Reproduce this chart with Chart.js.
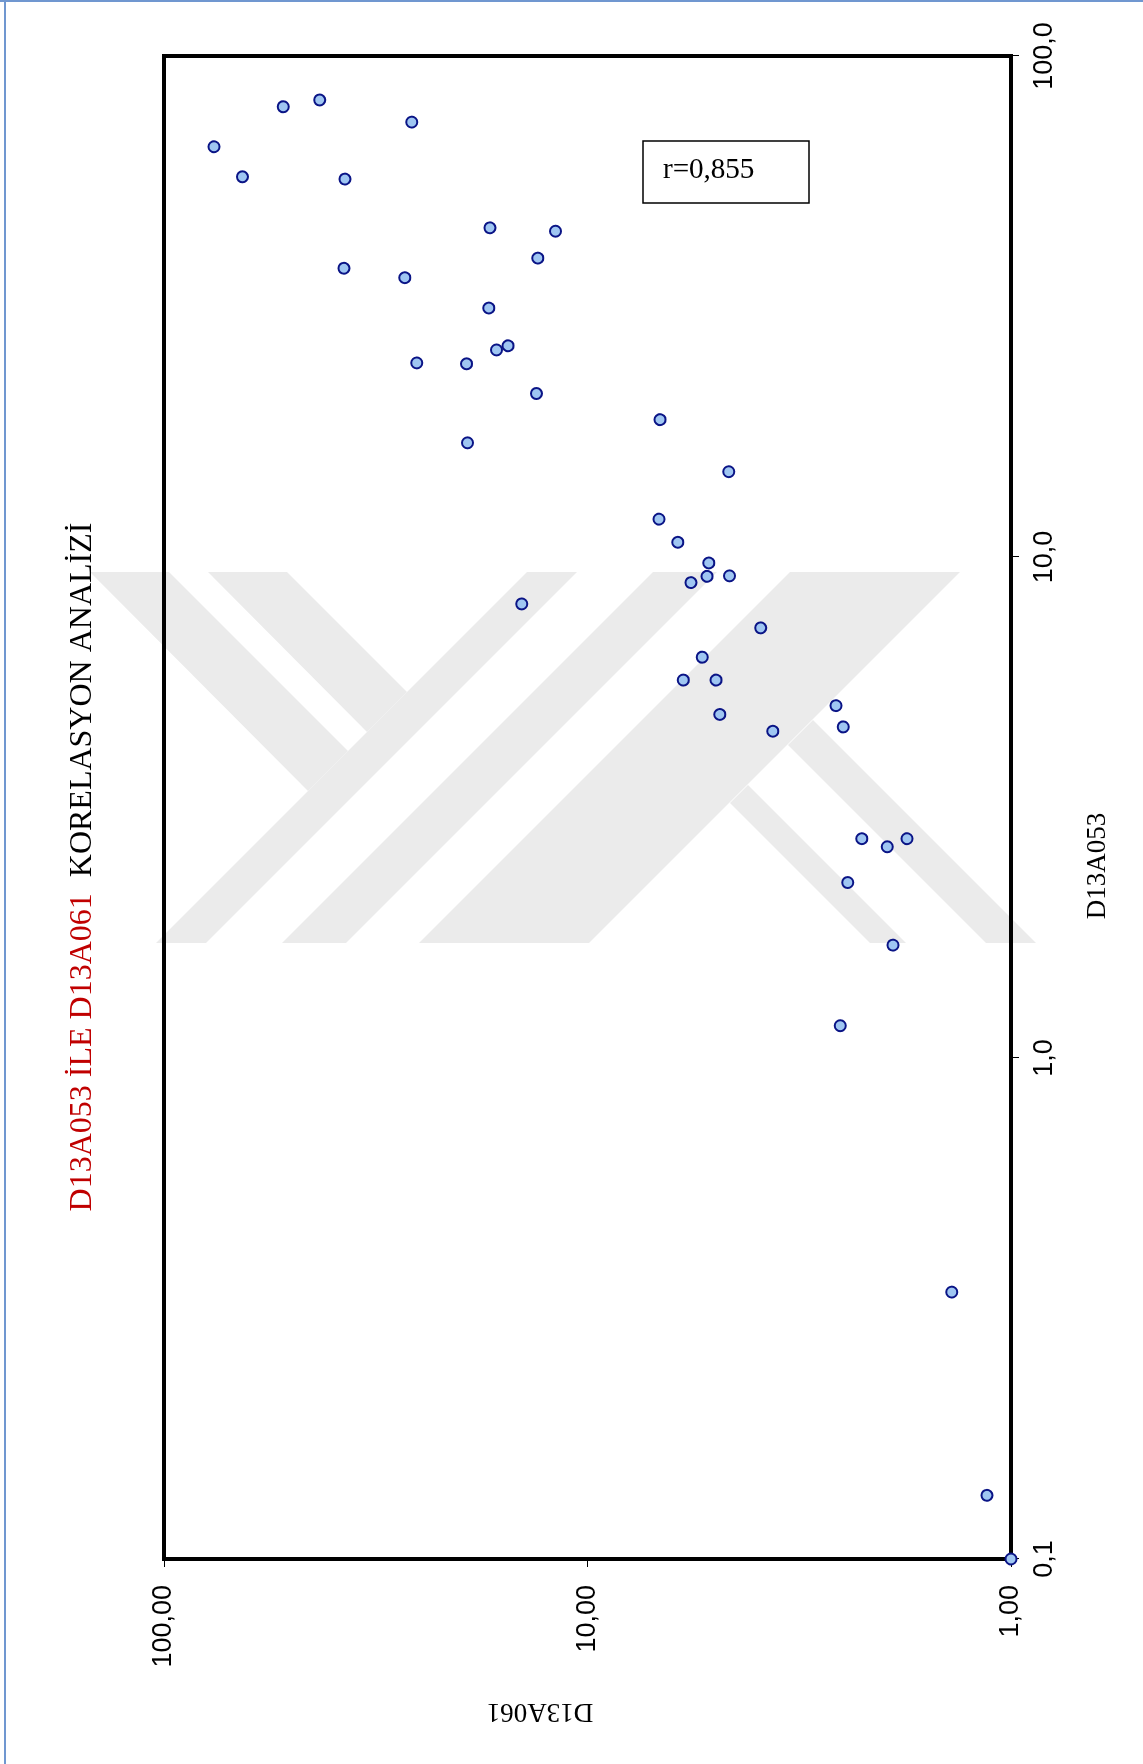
<!DOCTYPE html>
<html>
<head>
<meta charset="utf-8">
<script src="https://cdn.jsdelivr.net/npm/chart.js@4/dist/chart.umd.min.js"></script>
<style>
  html, body { margin: 0; padding: 0; background: #fff; }
  body { width: 1143px; height: 1764px; overflow: hidden; position: relative; }
  /* the chart is laid out landscape and turned a quarter turn to stand on the page */
  #turn { position: absolute; left: 0; top: 0; width: 1764px; height: 1143px;
          transform-origin: 0 0; transform: translate(0px, 1764px) rotate(-90deg); }
  canvas { display: block; }
</style>
</head>
<body>
<div id="turn"><canvas id="c" width="1764" height="1143"></canvas></div>
<script>
// one pair per sample: D13A053 on the log x scale, D13A061 on the log y scale
const d13a053 = [65.9, 57.4, 79.2, 81.7, 73.8, 56.8, 37.7, 36.1, 45.4, 44.7, 39.5,
                 31.4, 25.9, 26.4, 24.4, 24.3, 21.2, 16.9, 18.8, 14.8, 11.9, 10.7,
                 9.73, 8.89, 9.15, 9.17, 8.06, 7.22, 6.31, 5.68, 5.68, 4.85, 4.49,
                 5.05, 4.58, 2.74, 2.64, 2.74, 2.24, 1.68, 1.16, 0.341, 0.134, 0.1];
const d13a061 = [76.2, 65.3, 52.3, 42.9, 26.0, 37.4, 37.6, 27.0, 17.0, 11.9, 13.1,
                 17.1, 16.4, 15.4, 25.3, 19.3, 13.2, 19.2, 6.74, 4.64, 6.78, 6.12,
                 5.17, 5.70, 5.22, 4.62, 14.3, 3.90, 5.36, 5.94, 4.97, 4.87, 3.65,
                 2.59, 2.49, 2.25, 1.96, 1.76, 2.43, 1.90, 2.53, 1.38, 1.14, 1.0];
const xTickValues = [0.1, 1, 10, 100];
const yTickValues = [1, 10, 100];
const xTitle = 'D13A053';
const yTitle = 'D13A061';
const titleRed = 'D13A053 İLE D13A061';
const titleBlack = 'KORELASYON ANALİZİ';
const corrLabel = 'r=0,855';

const points = d13a053.map((v, i) => ({ x: v, y: d13a061[i] }));
const fmt = (v, d) => Number(v).toFixed(d).replace('.', ',');

const SANS = '"Liberation Sans", Arial, sans-serif';
const SERIF = '"Liberation Serif", "Times New Roman", serif';
const PAGE_H = 1764;

// switch the context to upright page coordinates (x right, y down on the page)
function toPage(ctx) { ctx.transform(0, 1, -1, 0, PAGE_H, 0); }

// pale diagonal stripes of the page emblem, in page coordinates
const emblem = [
  [[527, 572], [577, 572], [206, 943], [156, 943]],
  [[653, 572], [717, 572], [346, 943], [282, 943]],
  [[790, 572], [960, 572], [589, 943], [419, 943]],
  [[90, 572], [169, 572], [348, 751], [308, 791]],
  [[208, 572], [287, 572], [407, 692], [367, 732]],
  [[813, 720], [1036, 943], [986, 943], [788, 745]],
  [[748, 785], [906, 943], [870, 943], [730, 803]]
];

const decor = {
  id: 'decor',
  beforeDraw(chart) {
    const ctx = chart.ctx;
    ctx.save();
    toPage(ctx);
    ctx.fillStyle = '#ebebeb';
    emblem.forEach(poly => {
      ctx.beginPath();
      poly.forEach(([x, y], i) => (i ? ctx.lineTo(x, y) : ctx.moveTo(x, y)));
      ctx.closePath();
      ctx.fill();
    });
    ctx.restore();
  },
  beforeDatasetsDraw(chart) {
    const { ctx, chartArea: a } = chart;
    ctx.save();
    ctx.strokeStyle = '#000';
    ctx.lineWidth = 4;
    ctx.strokeRect(a.left, a.top, a.right - a.left, a.bottom - a.top);
    ctx.restore();
  },
  afterDraw(chart) {
    const ctx = chart.ctx;
    ctx.save();
    toPage(ctx);

    // page frame
    ctx.strokeStyle = '#7097d0';
    ctx.lineWidth = 2;
    ctx.beginPath();
    ctx.moveTo(5, 0); ctx.lineTo(5, PAGE_H);
    ctx.moveTo(0, 1); ctx.lineTo(1143, 1);
    ctx.stroke();

    // title, two colours, reading upward along the left side
    ctx.save();
    ctx.translate(91, 867);
    ctx.rotate(-Math.PI / 2);
    ctx.font = '32px ' + SERIF;
    ctx.textBaseline = 'alphabetic';
    ctx.textAlign = 'left';
    const w1 = ctx.measureText(titleRed).width;
    const w2 = ctx.measureText(titleBlack).width;
    const gap = 16;
    const x0 = -(w1 + gap + w2) / 2;
    ctx.fillStyle = '#c00000';
    ctx.fillText(titleRed, x0, 0);
    ctx.fillStyle = '#000';
    ctx.fillText(titleBlack, x0 + w1 + gap, 0);
    ctx.restore();

    // x axis title (right side, reading upward)
    ctx.save();
    ctx.translate(1105, 866);
    ctx.rotate(-Math.PI / 2);
    ctx.font = '27px ' + SERIF;
    ctx.fillStyle = '#000';
    ctx.textAlign = 'center';
    ctx.textBaseline = 'alphabetic';
    ctx.fillText(xTitle, 0, 0);
    ctx.restore();

    // y axis title (bottom, upside down)
    ctx.save();
    ctx.translate(540, 1704);
    ctx.rotate(Math.PI);
    ctx.font = '27px ' + SERIF;
    ctx.fillStyle = '#000';
    ctx.textAlign = 'center';
    ctx.textBaseline = 'alphabetic';
    ctx.fillText(yTitle, 0, 0);
    ctx.restore();

    // correlation box
    ctx.strokeStyle = '#000';
    ctx.lineWidth = 1.5;
    ctx.strokeRect(643, 141, 166, 62);
    ctx.font = '29px ' + SERIF;
    ctx.fillStyle = '#000';
    ctx.textAlign = 'left';
    ctx.textBaseline = 'alphabetic';
    ctx.fillText(corrLabel, 663, 178);

    ctx.restore();
  }
};

new Chart(document.getElementById('c'), {
  type: 'scatter',
  data: {
    datasets: [{
      data: points,
      pointRadius: 5.5,
      pointHoverRadius: 5.5,
      borderWidth: 2,
      backgroundColor: '#9fc6f2',
      borderColor: '#0a1486',
      clip: false
    }]
  },
  options: {
    responsive: false,
    animation: false,
    events: [],
    layout: { padding: { top: 164, right: 56, left: 0, bottom: 0 } },
    plugins: { legend: { display: false }, tooltip: { enabled: false }, title: { display: false } },
    scales: {
      x: {
        type: 'logarithmic',
        position: 'bottom',
        min: 0.1, max: 100,
        afterBuildTicks: s => { s.ticks = xTickValues.map(v => ({ value: v })); },
        afterFit: s => { s.height = 132; },
        ticks: {
          callback: v => fmt(v, 1),
          font: { family: SANS, size: 27 },
          color: '#000',
          padding: 9,
          autoSkip: false, maxRotation: 0, minRotation: 0
        },
        grid: { drawOnChartArea: false, drawTicks: true, tickLength: 8, color: '#000', lineWidth: 1 },
        border: { display: false }
      },
      y: {
        type: 'logarithmic',
        position: 'left',
        min: 1, max: 100,
        afterBuildTicks: s => { s.ticks = yTickValues.map(v => ({ value: v })); },
        afterFit: s => { s.width = 205; },
        ticks: {
          callback: v => fmt(v, 2),
          font: { family: SANS, size: 27 },
          color: '#000',
          padding: 18,
          autoSkip: false
        },
        grid: { drawOnChartArea: false, drawTicks: true, tickLength: 8, color: '#000', lineWidth: 1 },
        border: { display: false }
      }
    }
  },
  plugins: [decor]
});
</script>
</body>
</html>
